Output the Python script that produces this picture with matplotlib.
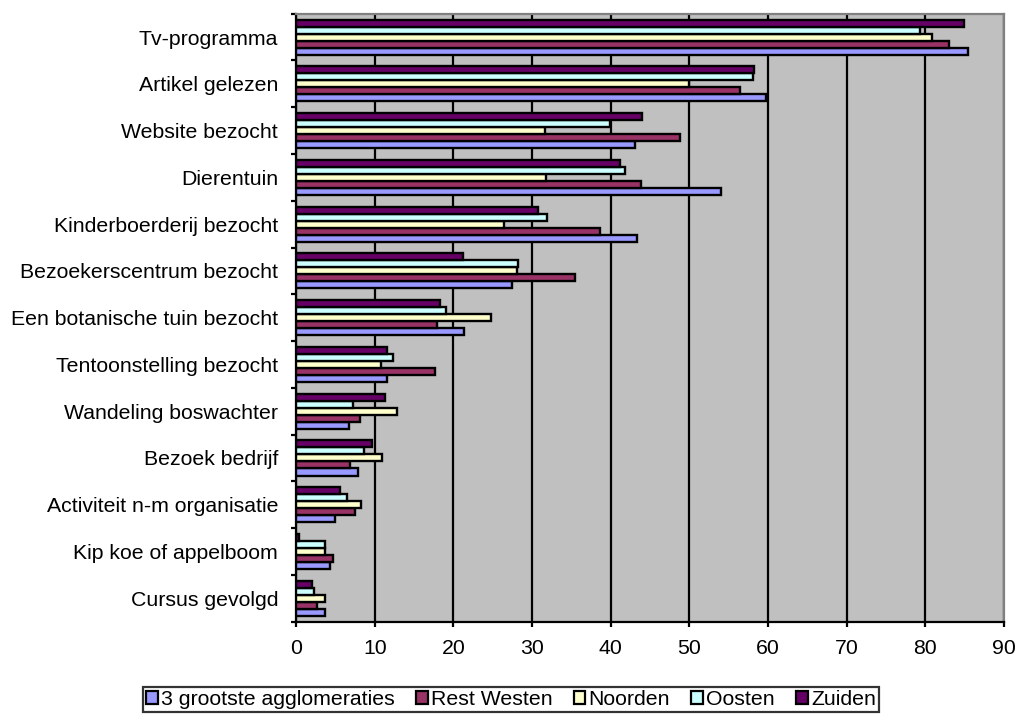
import matplotlib
matplotlib.use("Agg")
import matplotlib.pyplot as plt
import numpy as np

plt.rcParams['font.family'] = ['Liberation Sans', 'DejaVu Sans']

categories = ["Tv-programma", "Artikel gelezen", "Website bezocht", "Dierentuin",
              "Kinderboerderij bezocht", "Bezoekerscentrum bezocht",
              "Een botanische tuin bezocht", "Tentoonstelling bezocht",
              "Wandeling boswachter", "Bezoek bedrijf", "Activiteit n-m organisatie",
              "Kip koe of appelboom", "Cursus gevolgd"]

series_names = ["3 grootste agglomeraties", "Rest Westen", "Noorden", "Oosten", "Zuiden"]

grootste3 = [85.5, 59.7, 43.1, 54.0, 43.3, 27.5, 21.3, 11.6, 6.7, 7.9, 4.9, 4.3, 3.7]
rest_westen = [83.0, 56.4, 48.8, 43.9, 38.6, 35.4, 17.9, 17.6, 8.1, 6.8, 7.5, 4.7, 2.6]
noorden = [80.9, 49.9, 31.7, 31.8, 26.4, 28.1, 24.8, 10.8, 12.8, 10.9, 8.3, 3.7, 3.6]
oosten = [79.3, 58.1, 39.9, 41.8, 31.9, 28.2, 19.1, 12.3, 7.2, 8.6, 6.4, 3.6, 2.3]
zuiden = [84.9, 58.2, 44.0, 41.2, 30.7, 21.2, 18.3, 11.6, 11.3, 9.6, 5.6, 0.4, 2.0]

colors = ["#9999FF", "#993366", "#FFFFCC", "#CCFFFF", "#660066"]
data = [grootste3, rest_westen, noorden, oosten, zuiden]

FS = 15.3

fig = plt.figure(figsize=(10.18, 7.22), dpi=100)
ax = fig.add_axes([0.291, 0.139, 0.695, 0.842])
ax.set_facecolor("#C0C0C0")

n = len(categories)
centers = np.arange(n)[::-1]  # Tv-programma at top
bh = 0.15
offsets = (np.arange(5) - 2) * bh
for i, (vals, col, name) in enumerate(zip(data, colors, series_names)):
    ax.barh(centers + offsets[i], vals, height=bh, color=col, edgecolor="black",
            linewidth=1.7, label=name, zorder=3)

ax.set_xlim(0, 90)
ax.set_ylim(-0.5, n - 0.5)
ax.set_xticks(np.arange(0, 91, 10))
ax.xaxis.grid(True, color="black", linewidth=1.6, zorder=1)
ax.set_axisbelow(True)

ax.set_yticks(np.arange(-0.5, n, 1.0))
ax.set_yticklabels([])
ax.set_yticks(centers, minor=True)
ax.set_yticklabels(categories, minor=True, fontsize=FS)
ax.tick_params(axis='y', which='minor', length=0, pad=13)
ax.tick_params(axis='y', which='major', length=3.6, width=1.6, direction='out')
ax.tick_params(axis='x', length=3.6, width=1.6, direction='out', labelsize=FS, pad=9)

for s in ["left", "bottom"]:
    ax.spines[s].set_color("black")
    ax.spines[s].set_linewidth(1.6)
for s in ["top", "right"]:
    ax.spines[s].set_color("#808080")
    ax.spines[s].set_linewidth(1.6)

leg = fig.legend(loc="center", bbox_to_anchor=(0.502, 0.031), ncol=5, fontsize=FS,
                 frameon=True, fancybox=False, edgecolor="black", handlelength=0.55,
                 handleheight=0.55, handletextpad=0.15, columnspacing=1.0,
                 borderpad=0.15, borderaxespad=0)
leg.get_frame().set_linewidth(1.6)
for h in leg.legend_handles:
    h.set_linewidth(1.6)

fig.savefig("out.png", dpi=100)
